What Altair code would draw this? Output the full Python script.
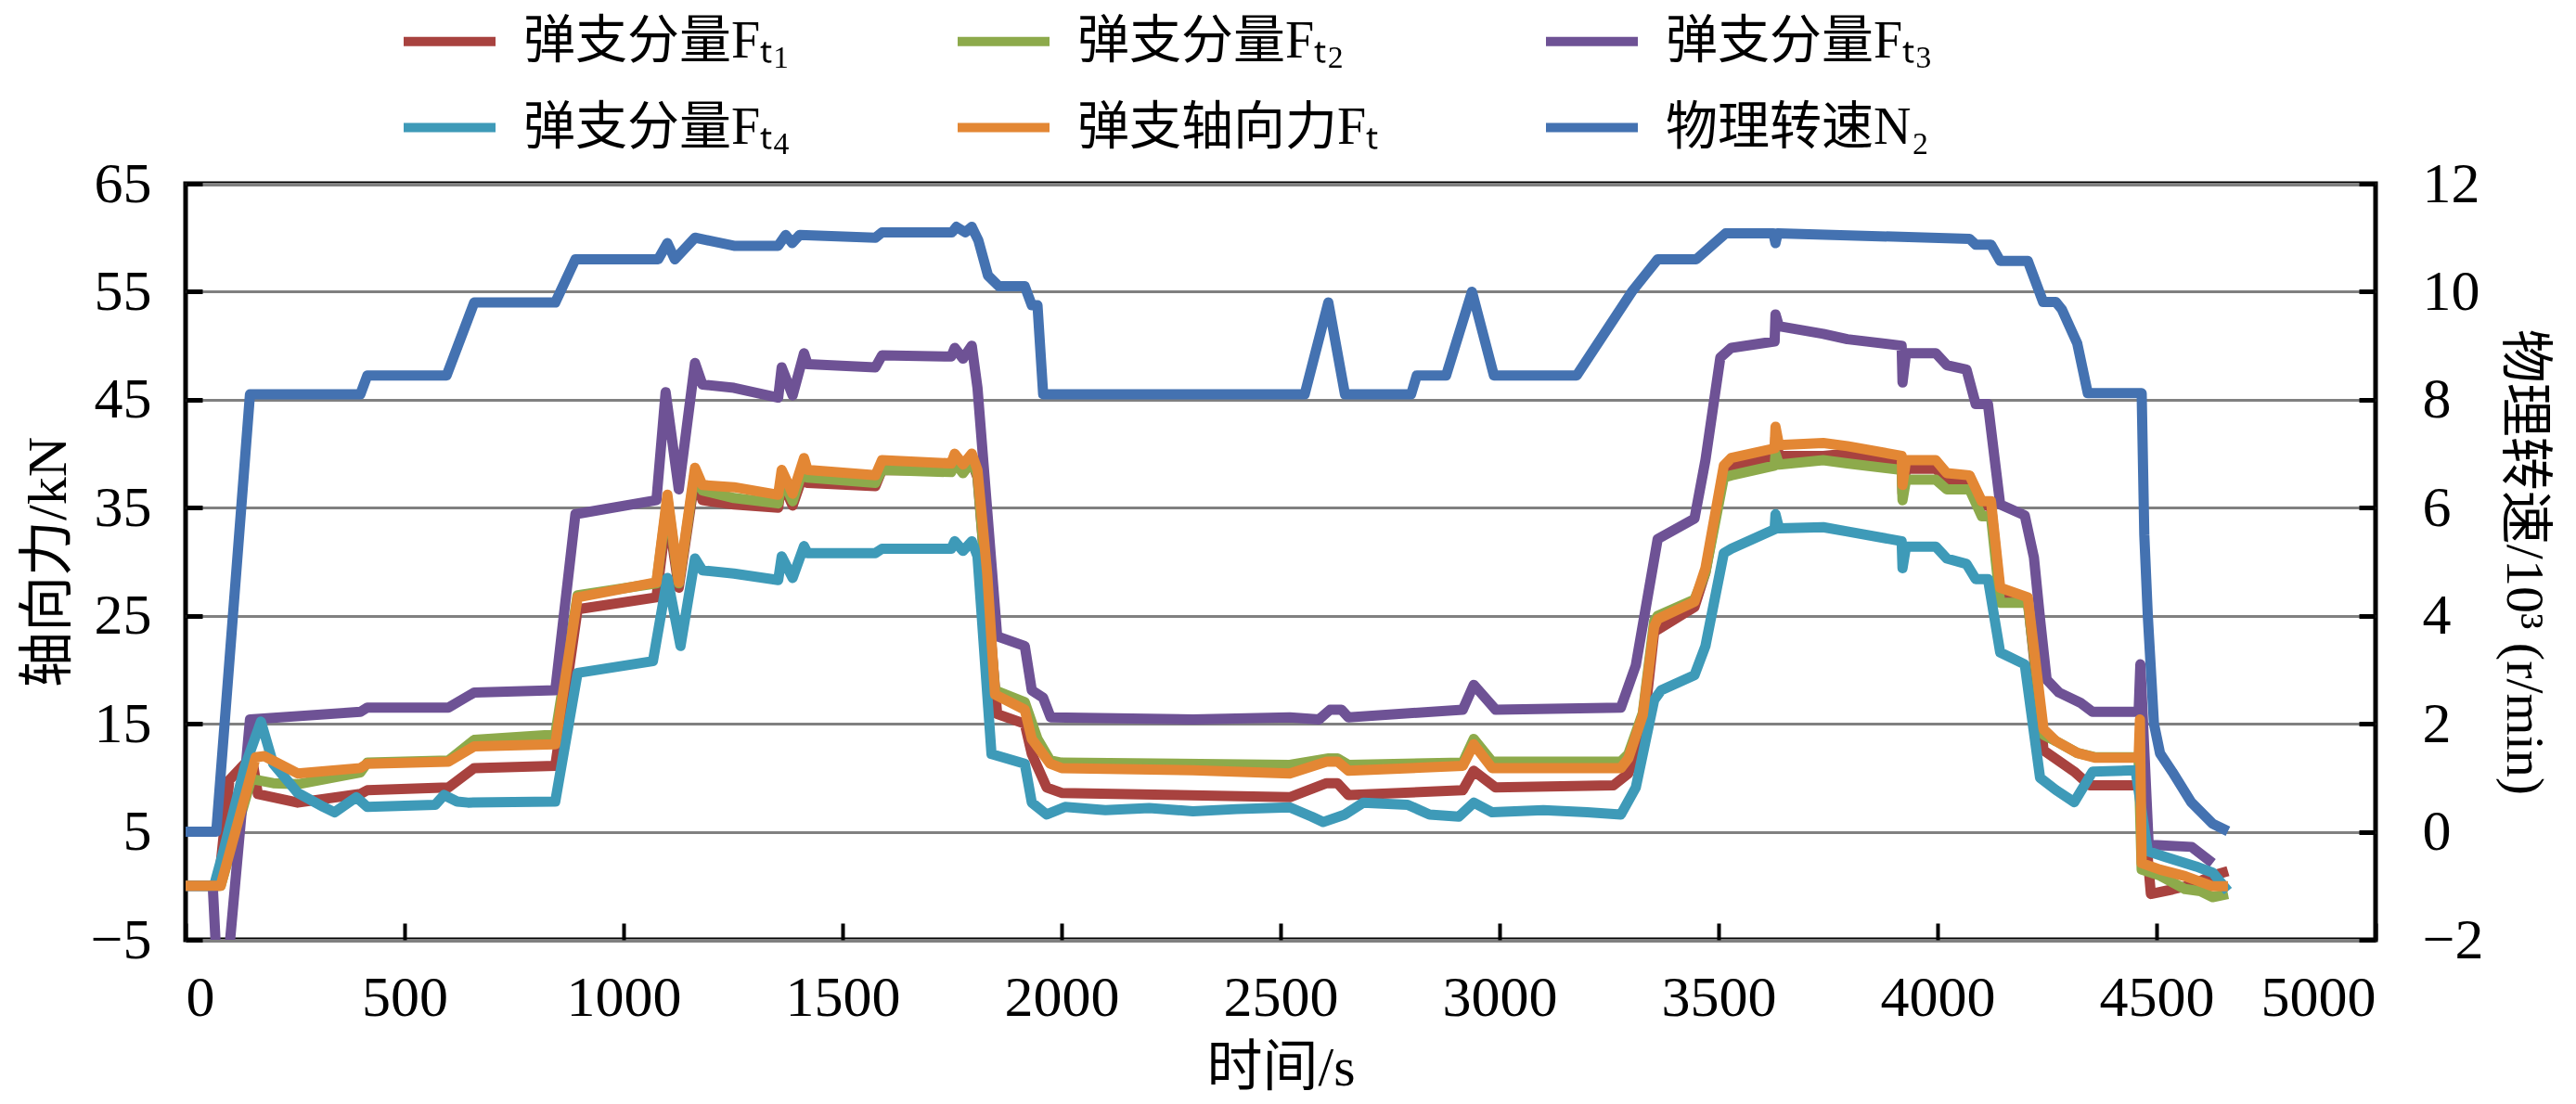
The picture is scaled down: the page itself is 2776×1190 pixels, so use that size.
import altair as alt
import pandas as pd

# values: time in s, force in kN, speed in 10^3 r/min
T_FT1 = [0, 75, 100, 135, 155, 165, 256, 399, 415, 600, 659, 844, 895, 1075, 1100, 1126, 1163, 1180, 1252, 1353,
         1361, 1386, 1412, 1420, 1575, 1590, 1748, 1756, 1775, 1795, 1808, 1853, 1916, 1932, 1966, 2000, 2521, 2605, 2630, 2655,
         2916, 2941, 2991, 3260, 3294, 3327, 3353, 3445, 3470, 3512, 3529, 3628, 3630, 3638, 3739, 3794, 3918, 3920, 3928, 3996,
         4021, 4073, 4101, 4122, 4143, 4206, 4242, 4312, 4347, 4459, 4462, 4487, 4536, 4580, 4628, 4663]
V_FT1 = [0, 0, 9.8, 11.3, 11.0, 8.5, 7.7, 8.5, 8.85, 9.1, 10.9, 11.1, 25.6, 26.7, 34.8, 27.6, 37.8, 35.7, 35.3, 35.0,
         37.5, 35.2, 38.3, 37.3, 37.0, 38.5, 38.4, 39.3, 38.3, 39.3, 37.8, 15.9, 15.0, 12.2, 9.1, 8.6, 8.2, 9.5, 9.5, 8.4,
         8.85, 10.65, 9.1, 9.3, 10.4, 14.0, 23.5, 25.8, 29.0, 38.5, 38.9, 39.6, 41.5, 39.8, 39.8, 40.0, 39.0, 36.3, 38.6, 38.6,
         37.6, 37.2, 35.2, 35.2, 27.0, 26.5, 12.55, 10.57, 9.3, 9.3, 11.0, -0.76, -0.34, 0.09, 0.94, 1.36]

T_FT2 = [0, 80, 150, 200, 256, 399, 415, 600, 659, 844, 895, 1075, 1100, 1126, 1163, 1180, 1252, 1353, 1361, 1386,
         1412, 1420, 1575, 1590, 1748, 1756, 1775, 1795, 1808, 1848, 1916, 1945, 1974, 2000, 2521, 2610, 2630, 2655, 2916, 2941,
         2983, 3277, 3294, 3327, 3353, 3361, 3445, 3470, 3512, 3529, 3628, 3630, 3638, 3739, 3794, 3918, 3920, 3928, 3996, 4021,
         4073, 4101, 4122, 4143, 4206, 4242, 4270, 4319, 4361, 4459, 4466, 4508, 4565, 4600, 4628, 4663]
V_FT2 = [0, 0, 9.9, 9.5, 9.4, 10.5, 11.4, 11.6, 13.5, 14.0, 26.9, 28.0, 35.8, 28.0, 38.3, 36.6, 35.9, 35.4, 37.8, 35.6,
         38.8, 37.8, 37.3, 38.5, 38.3, 39.2, 38.2, 39.3, 38.0, 18.1, 17.0, 13.6, 11.6, 11.4, 11.2, 11.8, 11.8, 11.2, 11.4, 13.6,
         11.5, 11.5, 12.2, 16.0, 24.5, 25.0, 26.5, 29.0, 37.8, 38.0, 38.9, 40.0, 39.0, 39.4, 39.1, 38.5, 35.7, 37.6, 37.6, 36.7,
         36.7, 34.2, 34.2, 26.2, 26.2, 13.97, 13.4, 12.3, 11.9, 11.9, 1.5, 0.94, -0.3, -0.5, -1.05, -0.76]

T_FT3 = [0, 62, 72, 95, 147, 399, 415, 600, 659, 844, 890, 1075, 1096, 1126, 1163, 1180, 1252, 1353, 1361, 1386,
         1412, 1420, 1575, 1590, 1748, 1756, 1775, 1795, 1808, 1853, 1916, 1932, 1958, 1975, 2300, 2521, 2588, 2613, 2639, 2655,
         2916, 2941, 2991, 3277, 3311, 3361, 3445, 3470, 3504, 3529, 3628, 3630, 3638, 3739, 3794, 3918, 3920, 3928, 3996, 4021,
         4066, 4087, 4115, 4143, 4199, 4220, 4234, 4249, 4277, 4326, 4354, 4459, 4463, 4482, 4580, 4628]
V_FT3 = [0, 0, -8, -8, 15.4, 16.1, 16.5, 16.5, 17.9, 18.1, 34.4, 35.7, 45.7, 36.7, 48.4, 46.4, 46.1, 45.2, 48.0, 45.4,
         49.3, 48.3, 48.0, 49.1, 49.0, 49.8, 48.8, 50.0, 46.1, 23.1, 22.2, 18.1, 17.4, 15.6, 15.4, 15.6, 15.4, 16.3, 16.3, 15.6,
         16.3, 18.6, 16.3, 16.5, 20.4, 32.1, 34.0, 39.4, 48.9, 49.8, 50.4, 52.9, 51.8, 51.1, 50.6, 50.0, 46.6, 49.3, 49.3, 48.2,
         47.8, 44.6, 44.6, 35.3, 34.3, 30.4, 24.7, 19.1, 17.9, 16.95, 16.1, 16.1, 20.5, 3.8, 3.6, 2.1]

T_FT4 = [0, 65, 85, 135, 172, 200, 256, 315, 340, 390, 415, 570, 590, 620, 645, 844, 895, 1067, 1100, 1130,
         1163, 1180, 1252, 1353, 1361, 1386, 1412, 1420, 1575, 1590, 1748, 1756, 1775, 1795, 1808, 1840, 1916, 1932, 1966, 2008,
         2100, 2200, 2300, 2400, 2521, 2571, 2597, 2647, 2689, 2790, 2840, 2907, 2941, 2983, 3100, 3200, 3277, 3311, 3353, 3369,
         3445, 3470, 3512, 3529, 3628, 3630, 3638, 3739, 3794, 3918, 3920, 3928, 3996, 4021, 4066, 4087, 4115, 4143, 4199, 4234,
         4270, 4312, 4354, 4452, 4480, 4522, 4590, 4628, 4663]
V_FT4 = [0, 0, 3.0, 11.0, 15.2, 11.3, 8.6, 7.3, 6.8, 8.2, 7.3, 7.5, 8.4, 7.8, 7.7, 7.8, 19.7, 20.8, 28.5, 22.2,
         30.3, 29.2, 28.9, 28.3, 30.5, 28.5, 31.45, 30.8, 30.8, 31.2, 31.2, 31.9, 31.0, 31.9, 30.5, 12.2, 11.3, 7.7, 6.6, 7.3,
         7.0, 7.2, 6.9, 7.1, 7.26, 6.4, 5.9, 6.6, 7.7, 7.5, 6.6, 6.4, 7.7, 6.8, 7.0, 6.8, 6.6, 9.1, 17.2, 18.1,
         19.5, 22.2, 30.8, 31.2, 33.0, 34.4, 33.1, 33.2, 32.8, 31.9, 29.4, 31.4, 31.4, 30.3, 29.8, 28.4, 28.4, 21.6, 20.5, 10.0,
         8.87, 7.74, 10.57, 10.7, 3.2, 2.64, 1.79, 1.22, -0.5]

T_FT = [0, 80, 160, 180, 256, 399, 415, 600, 659, 844, 895, 1075, 1100, 1126, 1163, 1180, 1252, 1353, 1361, 1386,
        1412, 1420, 1575, 1590, 1748, 1756, 1775, 1795, 1808, 1830, 1848, 1916, 1932, 1974, 2000, 2300, 2521, 2605, 2630, 2655,
        2916, 2941, 2983, 3277, 3294, 3327, 3353, 3361, 3445, 3470, 3512, 3529, 3628, 3630, 3638, 3739, 3794, 3918, 3920, 3928,
        3996, 4021, 4073, 4101, 4122, 4143, 4206, 4242, 4270, 4319, 4361, 4459, 4462, 4466, 4508, 4565, 4628, 4663]
V_FT = [0, 0, 11.9, 12.0, 10.4, 10.9, 11.3, 11.5, 12.9, 13.1, 26.7, 28.1, 36.2, 28.1, 38.7, 37.1, 36.9, 36.2, 38.5, 36.3,
        39.6, 38.5, 38.0, 39.4, 39.1, 40.0, 39.0, 40.0, 38.5, 29.0, 17.7, 16.3, 13.6, 11.3, 10.9, 10.7, 10.4, 11.5, 11.5, 10.65,
        11.1, 13.1, 10.9, 10.9, 11.8, 15.8, 24.0, 24.7, 26.3, 29.4, 38.9, 39.6, 40.5, 42.5, 40.8, 41.0, 40.7, 39.8, 37.1, 39.4,
        39.4, 38.2, 38.0, 35.6, 35.6, 27.6, 26.7, 14.5, 13.4, 12.3, 11.85, 11.85, 15.4, 2.1, 1.5, 0.9, -0.05, -0.05]

T_N2 = [0, 70, 147, 399, 415, 596, 659, 844, 890, 1079, 1100, 1117, 1163, 1252, 1353, 1370, 1385, 1402, 1575, 1590,
        1750, 1760, 1780, 1795, 1810, 1832, 1857, 1916, 1932, 1945, 1958, 2555, 2609, 2647, 2798, 2811, 2878, 2937, 2987, 3176,
        3302, 3361, 3449, 3516, 3625, 3630, 3635, 4073, 4087, 4122, 4143, 4206, 4241, 4270, 4284, 4319, 4343, 4466, 4472, 4480,
        4494, 4508, 4536, 4579, 4628, 4663]
V_N2 = [0, 0, 8.1, 8.1, 8.45, 8.45, 9.8, 9.8, 10.6, 10.6, 10.9, 10.6, 11.0, 10.85, 10.85, 11.05, 10.9, 11.05, 11.0, 11.1,
        11.1, 11.2, 11.1, 11.2, 10.95, 10.3, 10.1, 10.1, 9.75, 9.75, 8.1, 8.1, 9.8, 8.1, 8.1, 8.45, 8.45, 10.0, 8.45, 8.45,
        10.0, 10.6, 10.6, 11.08, 11.08, 10.9, 11.08, 10.98, 10.87, 10.87, 10.57, 10.57, 9.81, 9.81, 9.67, 9.04, 8.12, 8.12, 5.5, 4.0,
        2.0, 1.45, 1.11, 0.55, 0.15, 0.01]

NAMES = ["弹支分量Fₜ₁", "弹支分量Fₜ₂", "弹支分量Fₜ₃", "弹支分量Fₜ₄", "弹支轴向力Fₜ", "物理转速N₂"]
COLORS = ["#A8423F", "#8DAA4B", "#6E5295", "#3E9AB8", "#E38734", "#4472B1"]

X_TICKS = [0, 500, 1000, 1500, 2000, 2500, 3000, 3500, 4000, 4500, 5000]
Y_TICKS = [-5, 5, 15, 25, 35, 45, 55, 65]
Y2_TICKS = [-2, 0, 2, 4, 6, 8, 10, 12]

FONT = "Liberation Serif, Noto Sans CJK SC, serif"

rows = []
for name, ts, vs in zip(NAMES[:5], [T_FT1, T_FT2, T_FT3, T_FT4, T_FT], [V_FT1, V_FT2, V_FT3, V_FT4, V_FT]):
    for t, v in zip(ts, vs):
        rows.append({"series": name, "t": t, "v": v})
forces = pd.DataFrame(rows)
speed = pd.DataFrame({"series": NAMES[5], "t": T_N2, "v": V_N2})

color = alt.Color(
    "series:N",
    sort=NAMES,
    scale=alt.Scale(domain=NAMES, range=COLORS),
    legend=alt.Legend(
        orient="none", legendX=230, legendY=-208, direction="horizontal", columns=3,
        title=None, symbolType="stroke", symbolStrokeWidth=10, symbolSize=9800,
        labelFont=FONT, labelFontSize=56, labelColor="black", labelOffset=25, labelLimit=800,
        columnPadding=160, rowPadding=10,
    ),
)

x_enc = alt.X(
    "t:Q",
    scale=alt.Scale(domain=[0, 5000], nice=False),
    axis=alt.Axis(values=X_TICKS, format="d", title="时间/s", grid=False, domain=False,
                  tickSize=18, tickWidth=4, offset=-18, labelPadding=32, titlePadding=16),
)

force_chart = alt.Chart(forces).mark_line(strokeWidth=11, clip=True, strokeJoin="round").encode(
    x=x_enc,
    y=alt.Y("v:Q", scale=alt.Scale(domain=[-5, 65], nice=False, zero=False),
            axis=alt.Axis(values=Y_TICKS, format="d", title="轴向力/kN", grid=True, gridColor="#808080",
                          gridWidth=3, domain=False, tickSize=18, tickWidth=5, offset=-18,
                          labelPadding=37, titlePadding=14)),
    color=color,
)

speed_chart = alt.Chart(speed).mark_line(strokeWidth=11, clip=True, strokeJoin="round").encode(
    x=x_enc,
    y=alt.Y("v:Q", scale=alt.Scale(domain=[-2, 12], nice=False, zero=False),
            axis=alt.Axis(orient="right", values=Y2_TICKS, format="d", title="物理转速/10³ (r/min)",
                          grid=False, domain=False, tickSize=18, tickWidth=5, offset=-18,
                          labelPadding=50, titlePadding=14, titleFontSize=58)),
    color=color,
)

chart = (
    alt.layer(force_chart, speed_chart)
    .resolve_scale(y="independent")
    .properties(
        width=2360, height=815,
        padding={"left": 192, "top": 190, "right": 208, "bottom": 168},
        autosize=alt.AutoSizeParams(type="none"),
    )
    .configure_view(stroke="black", strokeWidth=5)
    .configure_axis(
        labelFont=FONT, labelFontSize=62, labelColor="black",
        titleFont=FONT, titleFontSize=60, titleFontWeight="normal", titleColor="black",
        tickColor="black",
    )
)

chart.save("out.html", embed_options={"renderer": "svg", "actions": False})
